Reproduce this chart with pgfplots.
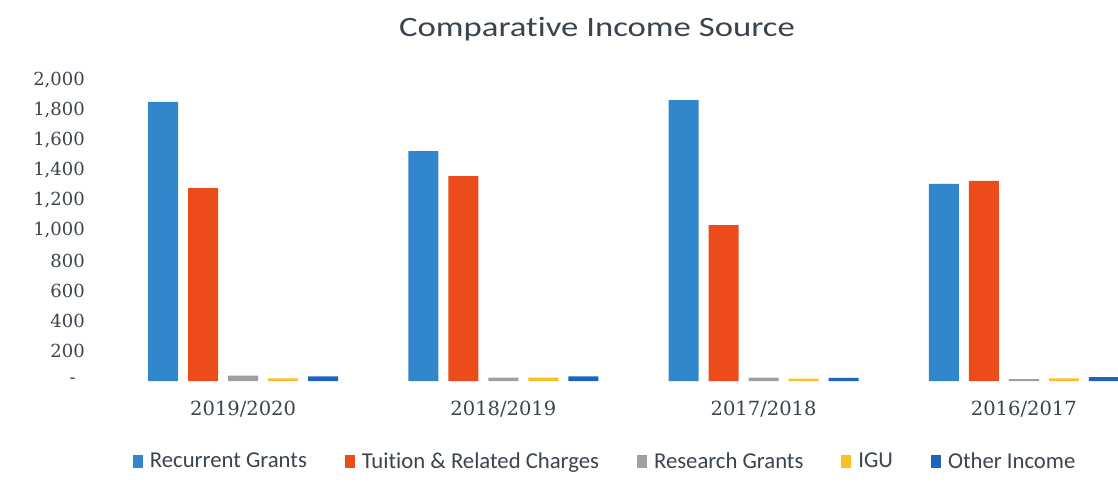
\documentclass[border=0pt]{standalone}
\usepackage{pgfplots}
\pgfplotsset{compat=1.18}
\usepackage{fontspec}
\setmainfont{Carlito}[Ligatures={NoCommon}, RawFeature={-liga;-clig;-calt}]
\newfontfamily\numfont{DejaVu Serif}
\definecolor{cRec}{RGB}{50,134,204}
\definecolor{cTui}{RGB}{236,76,26}
\definecolor{cRes}{RGB}{160,160,160}
\definecolor{cIGU}{RGB}{252,190,36}
\definecolor{cOth}{RGB}{30,100,190}
\definecolor{txt}{RGB}{58,68,78}
\begin{document}
\begin{tikzpicture}[x=1pt,y=1pt]
\path[use as bounding box, fill=white] (0,0) rectangle (1118,499);
\node[text=txt, font=\fontsize{28}{32}\selectfont, xscale=1.24] at (597,470) {Comparat\kern0ptive Income Source};
\begin{scope}
\clip (0,0) rectangle (1118,499);
\begin{axis}[
  at={(113pt,118pt)}, anchor=south west,
  scale only axis, width=1041pt, height=301pt,
  xmin=-0.5, xmax=3.5, ymin=0, ymax=2000,
  ybar=10pt, bar width=30pt,
  axis line style={draw=none}, major tick length=0pt,
  xtick={0,1,2,3},
  xticklabels={2019/2020,2018/2019,2017/2018,2016/2017},
  xticklabel style={anchor=north, inner sep=0pt, yshift=-20pt, text=txt, font=\numfont\fontsize{19.5}{22}\selectfont},
  ytick={0,200,...,2000},
  yticklabels={{-\hspace*{9pt}},200,400,600,800,{1,000},{1,200},{1,400},{1,600},{1,800},{2,000}},
  yticklabel style={anchor=east, inner sep=0pt, xshift=-28pt, text=txt, font=\numfont\fontsize{18}{20}\selectfont},
  legend image code/.code={\fill[#1] (0pt,-6.5pt) rectangle (10pt,6.5pt);},
  legend columns=5,
  legend cell align=left,
  legend style={at={(0.0192,-0.2658)}, anchor=west, draw=none, fill=none,
    inner sep=0pt, outer sep=0pt,
    font=\fontsize{22.7}{26}\selectfont, text=txt,
    nodes={inner sep=0pt},
    /tikz/every odd column/.append style={column sep=7pt},
    /tikz/every even column/.append style={column sep=38pt}},
]
\addplot[fill=cRec, draw=none] coordinates {(0,1854) (1,1528) (2,1867) (3,1309)};
\addplot[fill=cTui, draw=none] coordinates {(0,1282) (1,1362) (2,1036) (3,1329)};
\addplot[fill=cRes, draw=none] coordinates {(0,35) (1,22) (2,22) (3,12)};
\addplot[fill=cIGU, draw=none] coordinates {(0,18) (1,22) (2,16) (3,18)};
\addplot[fill=cOth, draw=none] coordinates {(0,30) (1,30) (2,20) (3,25)};
\legend{Recurrent Grants, Tui\kern0pt tion \& Related Charges, Research Grants, IGU, Other Income}
\end{axis}
\end{scope}
\end{tikzpicture}
\end{document}
